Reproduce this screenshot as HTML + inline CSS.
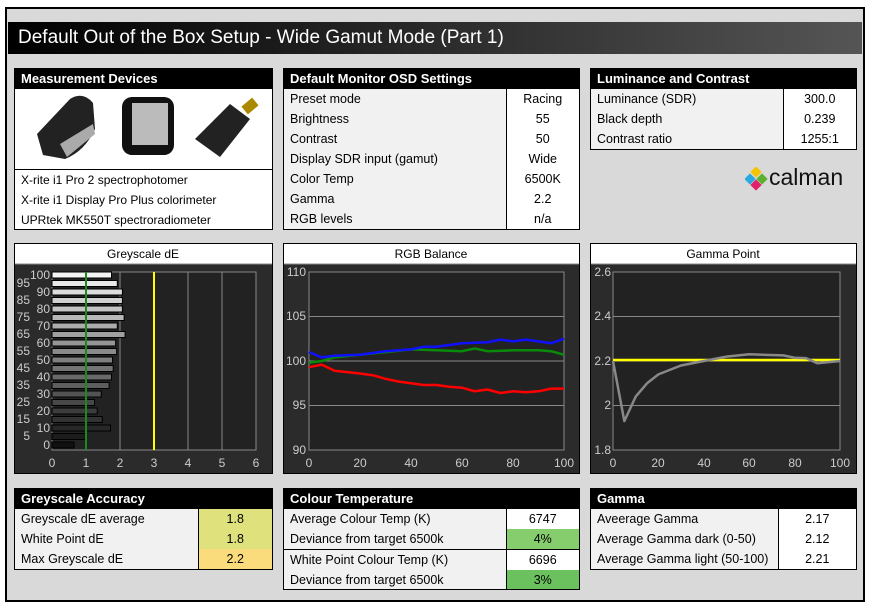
<!DOCTYPE html>
<html><head><meta charset="utf-8"><style>
body{margin:0;width:870px;height:605px;background:#fff;font-family:"Liberation Sans",sans-serif;position:relative;overflow:hidden}
.a{position:absolute;box-sizing:border-box}
.frame{left:5px;top:7px;width:860px;height:595px;background:#d9d9d9;border:2px solid #000}
.title{left:8px;top:22px;width:854px;height:32px;background:linear-gradient(90deg,#000 0%,#222 40%,#555 100%);color:#fff;font-size:19px;line-height:32px;padding-left:10px}
.box{border:1px solid #000;background:#fff;overflow:hidden}
.hd{background:#000;color:#fff;font-weight:bold;font-size:13px;height:20px;line-height:20px;padding-left:6px}
table{border-collapse:collapse;width:100%;font-size:12.5px;table-layout:fixed}
td{height:20px;padding:0 6px;line-height:20px;white-space:nowrap;overflow:hidden}
td.l{background:#f1f1f1;border-right:1px solid #000}
td.v{text-align:center}
.dev{font-size:12px;height:20px;line-height:20px;padding-left:6px}
</style></head><body>
<div class="a frame"></div>
<div class="a title">Default Out of the Box Setup - Wide Gamut Mode (Part 1)</div>

<div class="a box" style="left:14px;top:68px;width:259px;height:162px">
<div class="hd">Measurement Devices</div>
<svg width="257" height="80" style="display:block">
<path d="M22 45 L55 10 Q68 2 78 14 L80 40 Q70 62 50 70 L28 66 Z" fill="#222"/><path d="M45 55 L78 35 L80 45 L52 68Z" fill="#aaa"/>
<rect x="107" y="8" width="52" height="58" rx="10" fill="#111"/><rect x="117" y="14" width="36" height="42" fill="#bbb"/>
<path d="M180 50 L215 15 L235 30 L205 68 Z" fill="#222"/><rect x="228" y="12" width="14" height="10" fill="#a80" transform="rotate(-40 235 17)"/>
</svg>
<div style="border-top:1px solid #000">
<div class="dev">X-rite i1 Pro 2 spectrophotomer</div>
<div class="dev">X-rite i1 Display Pro Plus colorimeter</div>
<div class="dev">UPRtek MK550T spectroradiometer</div></div>
</div>

<div class="a box" style="left:283px;top:68px;width:297px;height:162px">
<div class="hd">Default Monitor OSD Settings</div>
<table><col><col style="width:73px"><tr><td class="l">Preset mode</td><td class="v">Racing</td></tr>
<tr><td class="l">Brightness</td><td class="v">55</td></tr>
<tr><td class="l">Contrast</td><td class="v">50</td></tr>
<tr><td class="l">Display SDR input (gamut)</td><td class="v">Wide</td></tr>
<tr><td class="l">Color Temp</td><td class="v">6500K</td></tr>
<tr><td class="l">Gamma</td><td class="v">2.2</td></tr>
<tr><td class="l">RGB levels</td><td class="v">n/a</td></tr></table></div>

<div class="a box" style="left:590px;top:68px;width:267px;height:82px">
<div class="hd">Luminance and Contrast</div>
<table><col><col style="width:73px"><tr><td class="l">Luminance (SDR)</td><td class="v">300.0</td></tr>
<tr><td class="l">Black depth</td><td class="v">0.239</td></tr>
<tr><td class="l">Contrast ratio</td><td class="v">1255:1</td></tr></table></div>

<div class="a" style="left:745px;top:166px;width:110px;height:26px">
<svg width="24" height="24" style="position:absolute;left:0;top:1px"><rect x="7" y="1" width="8" height="8" fill="#f5c400" transform="rotate(45 11 5)"/><rect x="1" y="8" width="8" height="8" fill="#2aa8e0" transform="rotate(45 5 12)"/><rect x="13" y="8" width="8" height="8" fill="#5cb030" transform="rotate(45 17 12)"/><rect x="7" y="14" width="8" height="8" fill="#e0206a" transform="rotate(45 11 18)"/></svg>
<div style="position:absolute;left:24px;top:-2px;font-size:23px;color:#111">calman</div></div>

<svg class="a" style="left:0;top:0;font-family:'Liberation Sans',sans-serif" width="870" height="605">
<g font-size="12" fill="#000">
<rect x="14.5" y="243.5" width="258" height="230" fill="#2b2b2b" stroke="#000"/>
<rect x="15" y="244" width="257" height="20" fill="#fff"/><line x1="15" y1="264" x2="272" y2="264" stroke="#888"/>
<text x="143" y="258" text-anchor="middle">Greyscale dE</text>
<rect x="283.5" y="243.5" width="296" height="230" fill="#2b2b2b" stroke="#000"/>
<rect x="284" y="244" width="295" height="20" fill="#fff"/><line x1="284" y1="264" x2="579" y2="264" stroke="#888"/>
<text x="431" y="258" text-anchor="middle">RGB Balance</text>
<rect x="590.5" y="243.5" width="266" height="230" fill="#2b2b2b" stroke="#000"/>
<rect x="591" y="244" width="265" height="20" fill="#fff"/><line x1="591" y1="264" x2="856" y2="264" stroke="#888"/>
<text x="723" y="258" text-anchor="middle">Gamma Point</text>
</g>
<rect x="52" y="272" width="204" height="178" fill="#222"/>
<rect x="309" y="272" width="255" height="178" fill="#222"/>
<rect x="613" y="272" width="227" height="178" fill="#222"/>
<g stroke="#888" stroke-width="1">
<line x1="86" y1="272" x2="86" y2="450"/><line x1="120" y1="272" x2="120" y2="450"/><line x1="154" y1="272" x2="154" y2="450"/><line x1="188" y1="272" x2="188" y2="450"/><line x1="222" y1="272" x2="222" y2="450"/>
<rect x="52" y="272" width="204" height="178" fill="none"/>
<line x1="309" y1="316.5" x2="564" y2="316.5"/><line x1="309" y1="361" x2="564" y2="361"/><line x1="309" y1="405.5" x2="564" y2="405.5"/>
<rect x="309" y="272" width="255" height="178" fill="none"/>
<line x1="613" y1="316.5" x2="840" y2="316.5"/><line x1="613" y1="361" x2="840" y2="361"/><line x1="613" y1="405.5" x2="840" y2="405.5"/>
<rect x="613" y="272" width="227" height="178" fill="none"/>
</g>
<g stroke="#000" stroke-width="1">
<rect x="52" y="272" width="59.5" height="6" fill="#f4f4f4"/>
<rect x="52" y="280.5" width="65.3" height="6" fill="#e8e8e8"/>
<rect x="52" y="289" width="70.4" height="6" fill="#dcdcdc"/>
<rect x="52" y="297.5" width="70.4" height="6" fill="#d0d0d0"/>
<rect x="52" y="306" width="70.4" height="6" fill="#c4c4c4"/>
<rect x="52" y="314.5" width="72.1" height="6" fill="#b8b8b8"/>
<rect x="52" y="323" width="65.3" height="6" fill="#acacac"/>
<rect x="52" y="331.5" width="73.1" height="6" fill="#a0a0a0"/>
<rect x="52" y="340" width="63.6" height="6" fill="#959595"/>
<rect x="52" y="348.5" width="64.6" height="6" fill="#8a8a8a"/>
<rect x="52" y="357" width="60.5" height="6" fill="#7f7f7f"/>
<rect x="52" y="365.5" width="61.2" height="6" fill="#747474"/>
<rect x="52" y="374" width="59.5" height="6" fill="#696969"/>
<rect x="52" y="382.5" width="57.1" height="6" fill="#5e5e5e"/>
<rect x="52" y="391" width="49.3" height="6" fill="#535353"/>
<rect x="52" y="399.5" width="42.5" height="6" fill="#484848"/>
<rect x="52" y="408" width="45.2" height="6" fill="#3d3d3d"/>
<rect x="52" y="416.5" width="50.3" height="6" fill="#333"/>
<rect x="52" y="425" width="58.5" height="6" fill="#282828"/>
<rect x="52" y="433.5" width="33.3" height="6" fill="#1c1c1c"/>
<rect x="52" y="442" width="22.1" height="6" fill="#111"/>
</g>
<line x1="86" y1="272" x2="86" y2="450" stroke="#1a8a1a" stroke-width="2"/>
<line x1="154" y1="272" x2="154" y2="450" stroke="#ffff00" stroke-width="2"/>
<g font-size="12" fill="#ccc">
<g text-anchor="end">
<text x="50" y="279">100</text><text x="50" y="296">90</text><text x="50" y="313">80</text><text x="50" y="330">70</text><text x="50" y="347">60</text><text x="50" y="364">50</text><text x="50" y="381">40</text><text x="50" y="398">30</text><text x="50" y="415">20</text><text x="50" y="432">10</text><text x="50" y="449">0</text>
<text x="30" y="287">95</text><text x="30" y="304">85</text><text x="30" y="321">75</text><text x="30" y="338">65</text><text x="30" y="355">55</text><text x="30" y="372">45</text><text x="30" y="389">35</text><text x="30" y="406">25</text><text x="30" y="423">15</text><text x="30" y="440">5</text>
<text x="306" y="276">110</text><text x="306" y="320">105</text><text x="306" y="365">100</text><text x="306" y="409">95</text><text x="306" y="454">90</text>
<text x="611" y="276">2.6</text><text x="611" y="320">2.4</text><text x="611" y="365">2.2</text><text x="611" y="409">2</text><text x="611" y="454">1.8</text>
</g>
<g text-anchor="middle">
<text x="52" y="467">0</text><text x="86" y="467">1</text><text x="120" y="467">2</text><text x="154" y="467">3</text><text x="188" y="467">4</text><text x="222" y="467">5</text><text x="256" y="467">6</text>
<text x="309" y="467">0</text><text x="360" y="467">20</text><text x="411" y="467">40</text><text x="462" y="467">60</text><text x="513" y="467">80</text><text x="564" y="467">100</text>
<text x="613" y="467">0</text><text x="658" y="467">20</text><text x="704" y="467">40</text><text x="749" y="467">60</text><text x="795" y="467">80</text><text x="840" y="467">100</text>
</g></g>
<g fill="none" stroke-width="2.5" stroke-linejoin="round">
<polyline stroke="#0a8a0a" points="309,362.8 321.75,361 334.5,357.4 360,354.8 385.5,352.1 411,349.4 436.5,350.3 462,351.2 474.75,348.5 487.5,351.2 513,350.3 538.5,350.3 551.25,351.2 564,354.8"/>
<polyline stroke="#1010ff" points="309,352.1 321.75,357.4 334.5,355.7 360,354.8 372.75,353 385.5,351.2 411,349.4 423.75,346.8 436.5,346.8 462,343.2 487.5,342.3 500.25,339.6 513,341.4 525.75,339.6 551.25,343.2 564,338.75"/>
<polyline stroke="#ff0000" points="309,367.2 321.75,364.6 334.5,370.8 360,373.5 372.75,375.2 385.5,378.8 398.25,381.5 411,383.3 423.75,385 436.5,385 449.25,386.8 462,387.7 474.75,391.3 487.5,389.5 500.25,393 513,391.3 525.75,392.2 538.5,391.3 551.25,388.6 564,388.6"/>
<line x1="613" y1="360" x2="840" y2="360" stroke="#ffff00"/>
<polyline stroke="#888" points="613,361 624.35,421.1 635.7,396.6 647,383.3 658.4,374.4 669.75,369.9 681,365.5 703.8,361 726.5,356.6 749.2,354.3 783.25,355.4 794.6,357.7 806,358.1 817.3,363.2 840,361"/>
</g>
</svg>

<div class="a box" style="left:14px;top:488px;width:259px;height:82px">
<div class="hd">Greyscale Accuracy</div>
<table><col><col style="width:74px"><tr><td class="l">Greyscale dE average</td><td class="v" style="background:#dfe27c">1.8</td></tr>
<tr><td class="l">White Point dE</td><td class="v" style="background:#dfe27c">1.8</td></tr>
<tr><td class="l">Max Greyscale dE</td><td class="v" style="background:#fbdc7c">2.2</td></tr></table></div>

<div class="a box" style="left:283px;top:488px;width:297px;height:102px">
<div class="hd">Colour Temperature</div>
<table><col><col style="width:73px"><tr><td class="l">Average Colour Temp (K)</td><td class="v">6747</td></tr>
<tr><td class="l">Deviance from target 6500k</td><td class="v" style="background:#86cd6e">4%</td></tr>
<tr style="border-top:1px solid #000"><td class="l">White Point Colour Temp (K)</td><td class="v">6696</td></tr>
<tr><td class="l">Deviance from target 6500k</td><td class="v" style="background:#6cc15f">3%</td></tr></table></div>

<div class="a box" style="left:590px;top:488px;width:267px;height:82px">
<div class="hd">Gamma</div>
<table><col><col style="width:78px"><tr><td class="l">Aveerage Gamma</td><td class="v">2.17</td></tr>
<tr><td class="l">Average Gamma dark (0-50)</td><td class="v">2.12</td></tr>
<tr><td class="l">Average Gamma light (50-100)</td><td class="v">2.21</td></tr></table></div>
</body></html>
